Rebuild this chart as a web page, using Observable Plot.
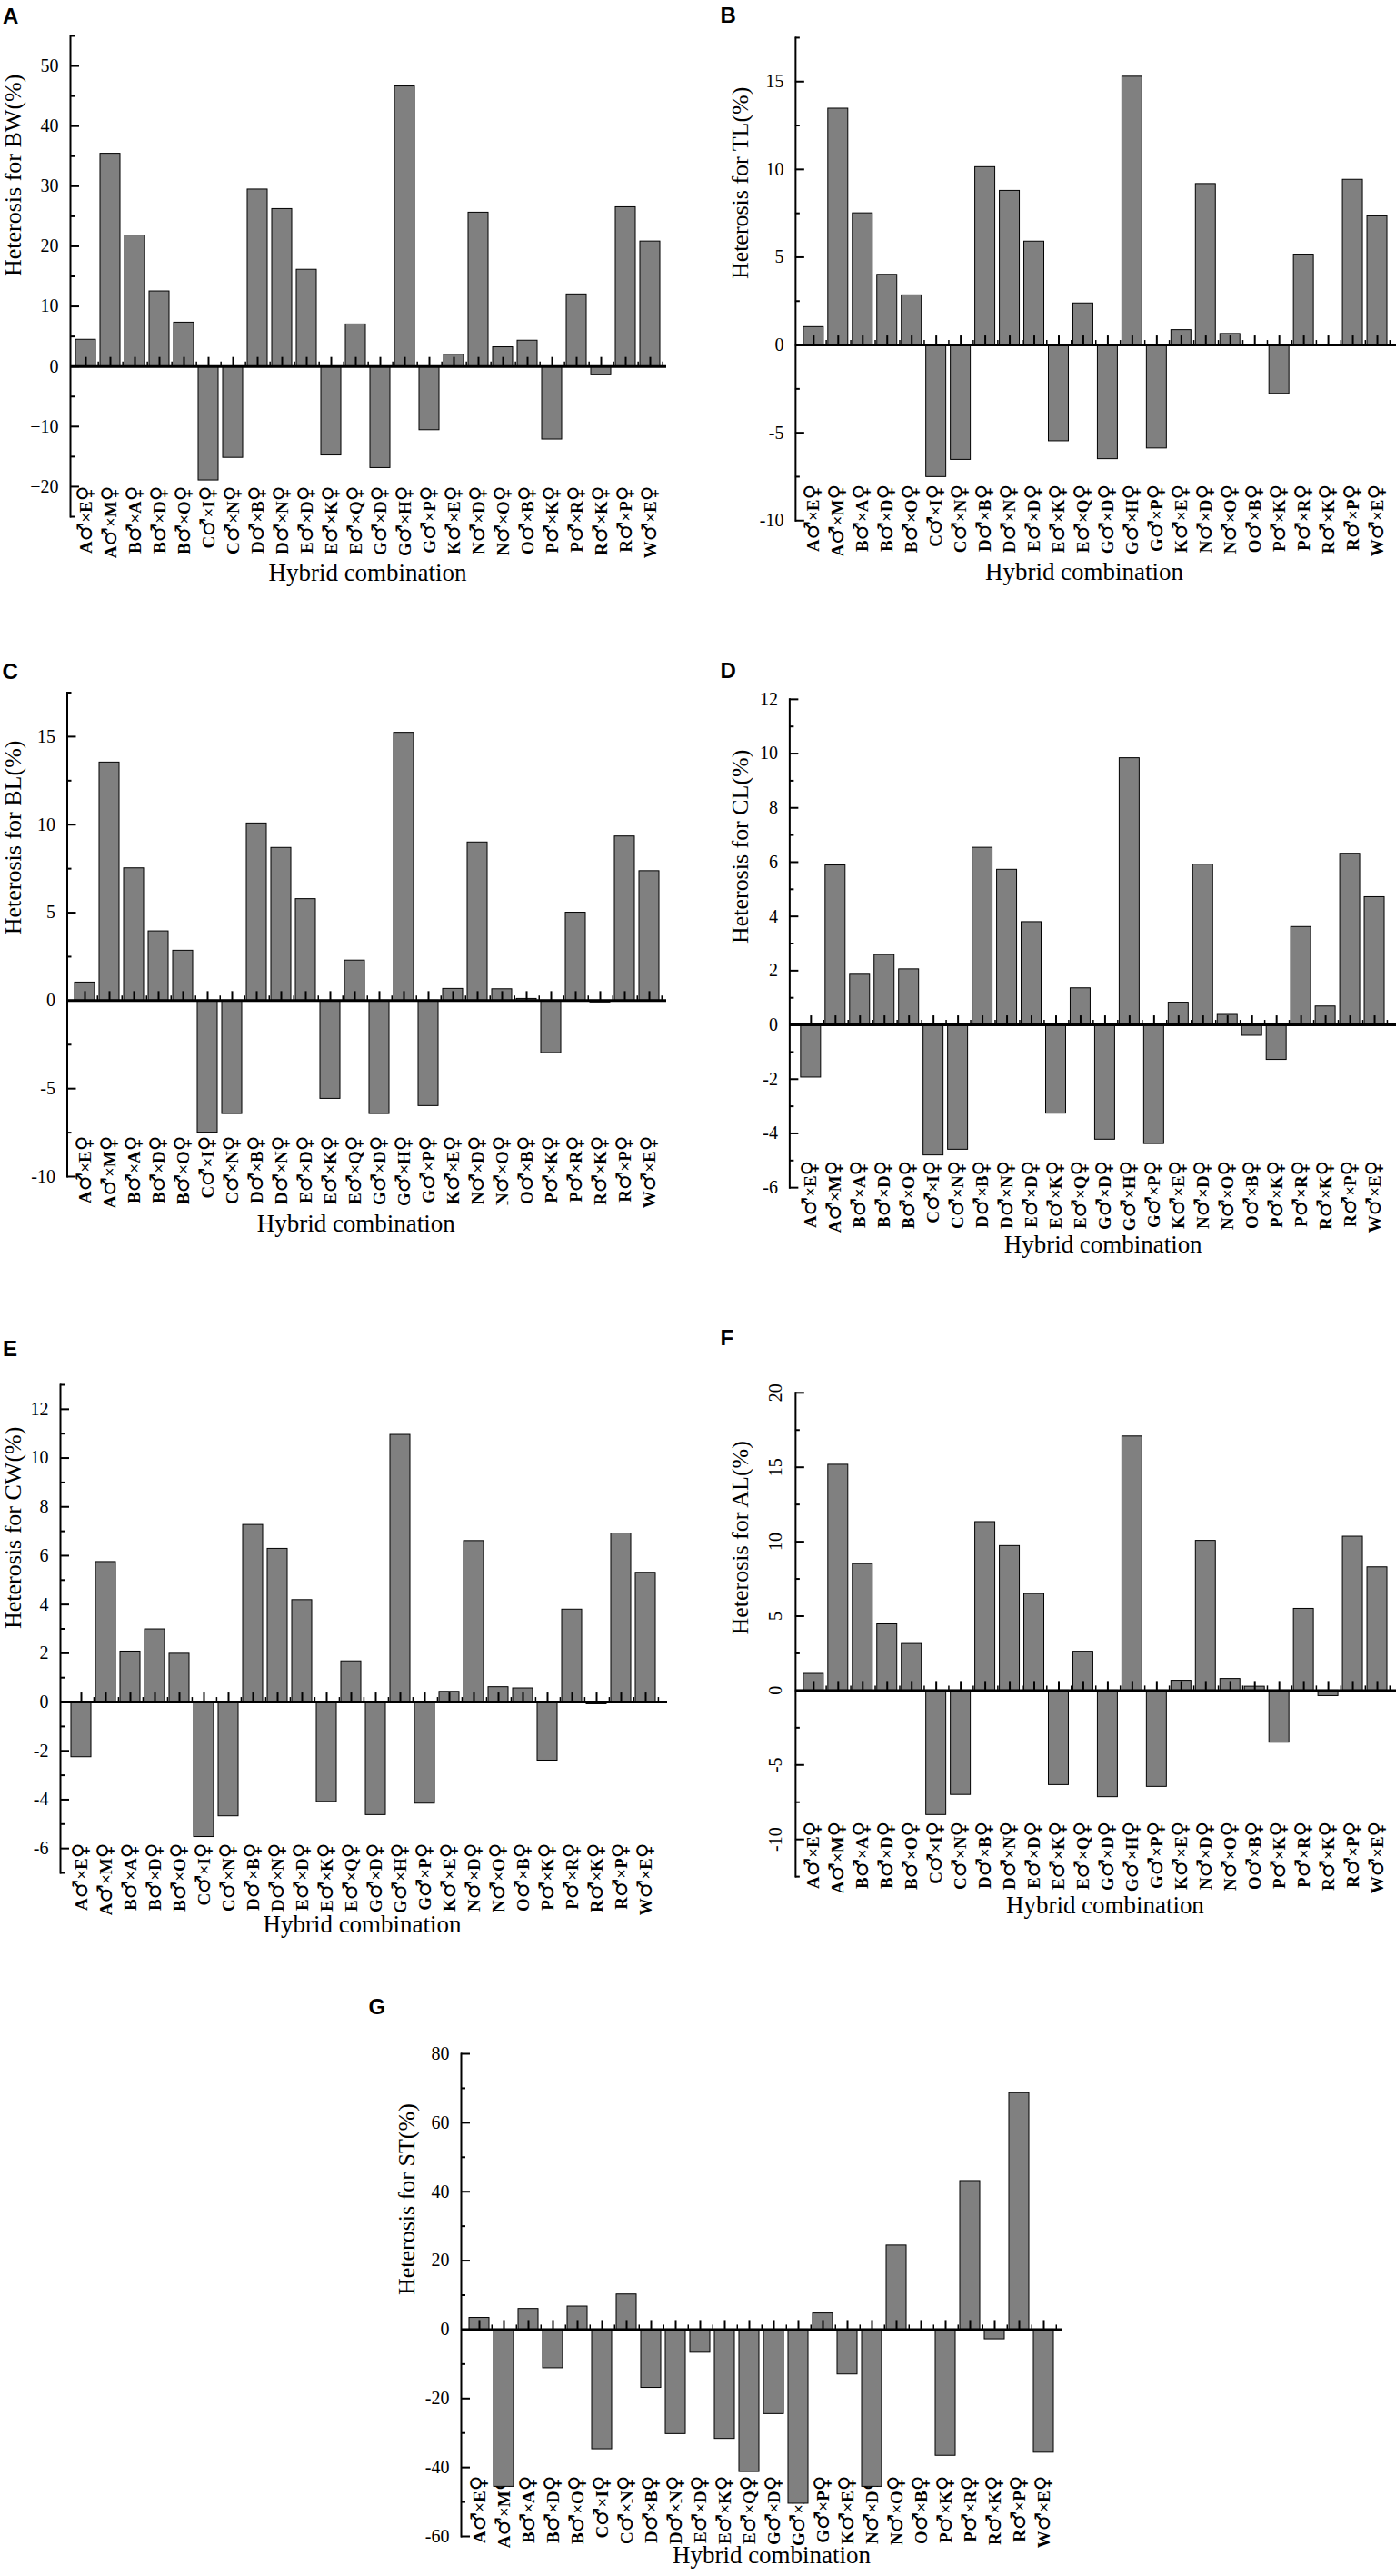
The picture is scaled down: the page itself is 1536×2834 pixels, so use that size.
<!DOCTYPE html>
<html><head><meta charset="utf-8">
<script src="https://cdn.jsdelivr.net/npm/d3@7"></script>
<script src="https://cdn.jsdelivr.net/npm/@observablehq/plot@0.6"></script>
<style>
html,body{margin:0;padding:0;background:#fff;}
#page{position:relative;width:1536px;height:2834px;overflow:hidden;background:#fff;}
.panel{position:absolute;}
.panel svg{overflow:visible;display:block;}
</style></head><body><div id="page"></div>
<script>
// ---- data ----
const combos = ["A♂×E♀","A♂×M♀","B♂×A♀","B♂×D♀","B♂×O♀","C♂×I♀","C♂×N♀","D♂×B♀","D♂×N♀","E♂×D♀","E♂×K♀","E♂×Q♀","G♂×D♀","G♂×H♀","G♂×P♀","K♂×E♀","N♂×D♀","N♂×O♀","O♂×B♀","P♂×K♀","P♂×R♀","R♂×K♀","R♂×P♀","W♂×E♀"];
const heterosisBW = [4.45, 35.4, 21.8, 12.5, 7.3, -18.96, -15.2, 29.45, 26.2, 16.1, -14.8, 7.0, -16.9, 46.6, -10.6, 1.97, 25.6, 3.2, 4.3, -12.15, 12.0, -1.46, 26.5, 20.8];
const heterosisTL = [1.02, 13.46, 7.5, 4.0, 2.83, -7.52, -6.54, 10.13, 8.78, 5.89, -5.48, 2.37, -6.5, 15.28, -5.89, 0.85, 9.17, 0.63, 0, -2.78, 5.15, 0, 9.41, 7.33];
const heterosisBL = [1.03, 13.53, 7.52, 3.94, 2.84, -7.5, -6.44, 10.07, 8.68, 5.77, -5.58, 2.28, -6.44, 15.22, -5.99, 0.67, 8.99, 0.65, 0.1, -2.98, 5.0, -0.1, 9.33, 7.36];
const heterosisCL = [-1.94, 5.88, 1.85, 2.58, 2.05, -4.81, -4.6, 6.53, 5.72, 3.79, -3.27, 1.35, -4.23, 9.83, -4.39, 0.82, 5.91, 0.37, -0.4, -1.29, 3.61, 0.68, 6.31, 4.71];
const heterosisCW = [-2.26, 5.74, 2.07, 2.98, 1.98, -5.53, -4.68, 7.26, 6.28, 4.18, -4.09, 1.67, -4.63, 10.95, -4.16, 0.42, 6.6, 0.61, 0.56, -2.4, 3.79, -0.09, 6.91, 5.3];
const heterosisAL = [1.12, 15.17, 8.5, 4.45, 3.13, -8.36, -7.01, 11.32, 9.71, 6.49, -6.35, 2.61, -7.16, 17.07, -6.47, 0.66, 10.06, 0.78, 0.26, -3.5, 5.49, -0.37, 10.34, 8.28];
const heterosisST = [3.4, -45.6, 6.0, -11.2, 6.7, -34.7, 10.2, -16.9, -30.3, -6.7, -31.7, -41.3, -24.5, -50.5, 4.7, -13.0, -45.6, 24.4, 0, -36.6, 43.1, -2.8, 68.6, -35.7];

const ticksBW = [-20,-10,0,10,20,30,40,50];
const minorBW = [-25,-15,-5,5,15,25,35,45,55];
const ticksTL = [-10,-5,0,5,10,15];
const minorTL = [-7.5,-2.5,2.5,7.5,12.5,17.5];
const ticksCL = [-6,-4,-2,0,2,4,6,8,10,12];
const minorCL = [-5,-3,-1,1,3,5,7,9,11];
const ticksCW = [-6,-4,-2,0,2,4,6,8,10,12];
const minorCW = [-7,-5,-3,-1,1,3,5,7,9,11,13];
const ticksAL = [-10,-5,0,5,10,15,20];
const minorAL = [-12.5,-7.5,-2.5,2.5,7.5,12.5,17.5];
const ticksST = [-60,-40,-20,0,20,40,60,80];
const minorST = [-50,-30,-10,10,30,50,70];

const xTitleText = "Hybrid combination";

// ---- layout (page pixel boxes) ----
const panels = [
  {letter:"A", values:heterosisBW, title:"Heterosis for BW(%)", domain:[-25,55], major:ticksBW, minor:minorBW, minus:true,
   box:{x:0,y:0,w:768,h:660}, frame:{l:77,r:733,t:39,b:568}, shift:34, xt:{dx:-1,dy:70}, ytDx:-63, lt:{dx:-74.5,dy:-14}},
  {letter:"B", values:heterosisTL, title:"Heterosis for TL(%)", domain:[-10,17.5], major:ticksTL, minor:minorTL,
   box:{x:768,y:0,w:769,h:660}, frame:{l:875,r:1537,t:41,b:573}, shift:40, xt:{dx:-13,dy:65}, ytDx:-61, lt:{dx:-83,dy:-16}},
  {letter:"C", values:heterosisBL, title:"Heterosis for BL(%)", domain:[-10,17.5], major:ticksTL, minor:minorTL,
   box:{x:0,y:660,w:768,h:730}, frame:{l:73.5,r:733,t:761.5,b:1294}, shift:45, xt:{dx:-12,dy:60}, ytDx:-59.5, lt:{dx:-71.5,dy:-15.5}},
  {letter:"D", values:heterosisCL, title:"Heterosis for CL(%)", domain:[-6,12], major:ticksCL, minor:minorCL,
   box:{x:768,y:660,w:769,h:730}, frame:{l:868.5,r:1537,t:769,b:1307}, shift:30, xt:{dx:11,dy:71}, ytDx:-54.5, lt:{dx:-76.5,dy:-23}},
  {letter:"E", values:heterosisCW, title:"Heterosis for CW(%)", domain:[-7,13], major:ticksCW, minor:minorCW,
   box:{x:0,y:1390,w:768,h:742}, frame:{l:66,r:734,t:1523,b:2060}, shift:33, xt:{dx:-2,dy:65}, ytDx:-52, lt:{dx:-63.5,dy:-32}},
  {letter:"F", values:heterosisAL, title:"Heterosis for AL(%)", domain:[-12.5,20], major:ticksAL, minor:minorAL, rotY:true,
   box:{x:768,y:1390,w:769,h:742}, frame:{l:875,r:1537,t:1532,b:2065}, shift:61, xt:{dx:10,dy:40}, ytDx:-61, lt:{dx:-83,dy:-52}},
  {letter:"G", values:heterosisST, title:"Heterosis for ST(%)", domain:[-60,80], major:ticksST, minor:minorST,
   box:{x:380,y:2132,w:820,h:702}, frame:{l:507,r:1168,t:2259,b:2790}, shift:67, xt:{dx:11,dy:29}, ytDx:-60, lt:{dx:-102,dy:-44}}
];

const SERIF = "'Liberation Serif','Times New Roman',serif";
const SANS = "'Liberation Sans',Arial,sans-serif";

function makePanel(p) {
  const {box, frame, domain} = p;
  const fw = frame.r - frame.l, fh = frame.b - frame.t;
  const ppu = fh / (domain[1] - domain[0]);
  const step = fw / combos.length;
  const data = combos.map((c, i) => ({c, v: p.values[i]}));
  const fmt = p.minus ? (d => d < 0 ? "\u2212" + Math.abs(d) : String(d)) : (d => String(d));
  const svg = Plot.plot({
    width: box.w, height: box.h,
    marginLeft: frame.l - box.x, marginRight: box.x + box.w - frame.r,
    marginTop: frame.t - box.y, marginBottom: box.y + box.h - frame.b,
    style: {fontFamily: SERIF, background: "transparent", color: "#000"},
    x: {domain: combos, paddingInner: 0.18, paddingOuter: 0.09},
    y: {domain: p.domain},
    marks: [
      Plot.axisX({tickSize: 0, tickPadding: 0, tickRotate: -90, fontSize: 19, fontWeight: "bold", dy: -p.shift, label: null}),
      Plot.barY(data, {x: "c", y: "v", fill: "#808080", stroke: "#000", strokeWidth: 1}),
      Plot.ruleY([0], {stroke: "#000", strokeWidth: 3}),
      Plot.ruleX(combos, {x: d => d, y1: 0, y2: 10 / ppu, stroke: "#000", strokeWidth: 2}),
      Plot.ruleX(combos, {x: d => d, dx: step / 2, y1: 0, y2: 5 / ppu, stroke: "#000", strokeWidth: 1.5}),
      Plot.tickY(p.major, {y: d => d, insetRight: fw - 10, stroke: "#000", strokeWidth: 2}),
      Plot.tickY(p.minor, {y: d => d, insetRight: fw - 5, stroke: "#000", strokeWidth: 2}),
      Plot.frame({anchor: "left", stroke: "#000", strokeWidth: 2}),
      Plot.axisY(p.major, {tickSize: 0, tickPadding: p.rotY ? 15 : 13, tickFormat: fmt, fontSize: 20, label: null, tickRotate: p.rotY ? -90 : 0}),
      Plot.text([p.title], {frameAnchor: "left", rotate: -90, dx: p.ytDx, fontSize: 26, fill: "#000"}),
      Plot.text([xTitleText], {frameAnchor: "bottom", dx: p.xt.dx, dy: p.xt.dy, fontSize: 27, fill: "#000"}),
      Plot.text([p.letter], {frameAnchor: "top-left", textAnchor: "start", lineAnchor: "bottom", dx: p.lt.dx, dy: p.lt.dy, fontSize: 24, fontWeight: "bold", fontFamily: SANS, fill: "#000"})
    ]
  });
  // render the ♂/♀ signs in a light symbol font as in the original
  svg.querySelectorAll('g[aria-label="x-axis tick label"] text').forEach(t => {
    const s = t.textContent;
    while (t.firstChild) t.removeChild(t.firstChild);
    for (const ch of s) {
      const ts = document.createElementNS("http://www.w3.org/2000/svg", "tspan");
      if (ch === "♂" || ch === "♀") {
        ts.setAttribute("font-weight", "normal");
        ts.setAttribute("font-family", "'DejaVu Sans',sans-serif");
        ts.setAttribute("font-size", "1.2em");
      }
      ts.textContent = ch;
      t.appendChild(ts);
    }
  });
  const div = document.createElement("div");
  div.className = "panel";
  div.style.left = box.x + "px";
  div.style.top = box.y + "px";
  div.appendChild(svg);
  document.getElementById("page").appendChild(div);
}
panels.forEach(makePanel);
</script>
</body></html>
